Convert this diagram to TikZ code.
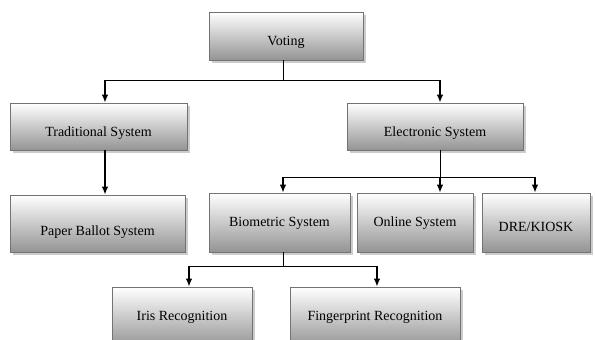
\documentclass[tikz,border=0pt]{standalone}
\usepackage{fontspec}
\setmainfont{Liberation Serif}
\usetikzlibrary{shadows}
\usetikzlibrary{arrows.meta}
\usetikzlibrary{calc}

\begin{document}
\begin{tikzpicture}[x=1pt,y=-1pt,
  every node/.style={draw=black!55,line width=.8pt,top color=white,bottom color=black!42,
    drop shadow={shadow xshift=2.5pt,shadow yshift=-2.5pt,fill=black!25,opacity=.8},
    font=\fontsize{14}{16}\selectfont,inner sep=0pt,text depth=3pt,text height=10pt},
  lowtext/.style={text height=#1},
  conn/.style={line width=.8pt},
  arr/.style={line width=1.2pt,-{Latex[length=8pt,width=6.5pt]}}]
\clip (0,0) rectangle (595,340);
\useasboundingbox (0,0) rectangle (595,340);
\node[minimum width=154pt,minimum height=48pt,lowtext=22pt] (vote) at (286,36) {Voting};
\node[minimum width=177pt,minimum height=47pt,lowtext=23pt] (trad) at (98.5,126.5) {Traditional System};
\node[minimum width=176pt,minimum height=47pt,lowtext=23pt] (elec) at (435,126.5) {Electronic System};
\node[minimum width=175pt,minimum height=57pt,lowtext=26pt] (paper) at (97.5,223.5) {Paper Ballot System};
\node[minimum width=141pt,minimum height=59pt] (bio) at (279.5,222.5) {Biometric System};
\node[minimum width=116pt,minimum height=59pt] (online) at (415,222.5) {Online System};
\node[minimum width=108pt,minimum height=59pt,lowtext=20pt] (dre) at (536,222.5) {DRE/KIOSK};
\node[minimum width=140pt,minimum height=60pt] (iris) at (182,317) {Iris Recognition};
\node[minimum width=170pt,minimum height=60pt] (finger) at (375,317) {Fingerprint Recognition};
% branch points
\coordinate (va) at (283,80);
\coordinate (ta) at (105,80);
\coordinate (ea) at (440,80);
\coordinate (eb) at (440,177);
\coordinate (ba) at (283,177);
\coordinate (da) at (535,177);
\coordinate (bb) at (283,266);
\coordinate (ia) at (189,266);
\coordinate (fa) at (377,266);
\draw[conn] (va |- vote.south) -- (va);
\draw[conn] (ta) -- (ea);
\draw[arr] (ta) -- (ta |- trad.north);
\draw[arr] (ea) -- (ea |- elec.north);
\draw[arr] (ta |- trad.south) -- (ta |- paper.north);
\draw[conn] (eb |- elec.south) -- (eb);
\draw[conn] (ba) -- (da);
\draw[arr] (ba) -- (ba |- bio.north);
\draw[arr] (eb) -- (eb |- online.north);
\draw[arr] (da) -- (da |- dre.north);
\draw[conn] (bb |- bio.south) -- (bb);
\draw[conn] (ia) -- (fa);
\draw[arr] (ia) -- (ia |- iris.north);
\draw[arr] (fa) -- (fa |- finger.north);
\end{tikzpicture}
\end{document}
